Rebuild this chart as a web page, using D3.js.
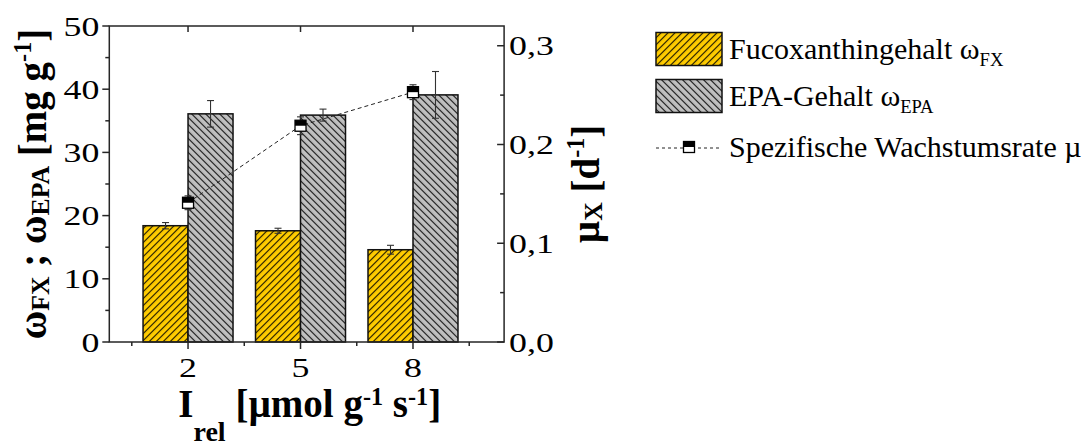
<!DOCTYPE html>
<html>
<head>
<meta charset="utf-8">
<script src="https://cdn.jsdelivr.net/npm/d3@7"></script>
<style>
  html, body { margin: 0; padding: 0; background: #fff; }
  svg { display: block; }
  text { font-family: "Liberation Serif", "Times New Roman", serif; fill: #000; }
</style>
</head>
<body>
<svg id="chart" width="1086" height="448"></svg>
<script>
// Light intensity levels (x categories)
const categories = ["2", "5", "8"];
// Fucoxanthin content [mg g-1] with standard deviation
const fxValues = [18.4, 17.6, 14.6];
const fxErrors = [0.5, 0.4, 0.7];
// EPA content [mg g-1] with standard deviation
const epaValues = [36.1, 35.9, 39.1];
const epaErrors = [2.1, 0.95, 3.7];
// Specific growth rate [d-1] with standard deviation
const muValues = [0.141, 0.219, 0.253];
const muErrors = [0.007, 0.009, 0.0075];
// Axis ticks
const leftTicks = [0, 10, 20, 30, 40, 50];
const leftMinorTicks = [5, 15, 25, 35, 45];
const rightTicks = [0, 0.1, 0.2, 0.3];
const rightMinorTicks = [0.05, 0.15, 0.25];
const xMinorTicks = [-0.5, 0.5, 1.5, 2.5];

const svg = d3.select("#chart");
const plot = { left: 109.3, right: 504.1, top: 26, bottom: 342 };
const sx = 1.28;          // horizontal stretch of the tick lettering
const axisColor = "#262626";

const x = d3.scaleLinear().domain([-0.7, 2.81]).range([plot.left, plot.right]);
const yL = d3.scaleLinear().domain([0, 50]).range([plot.bottom, plot.top]);
const yR = d3.scaleLinear().domain([0, 0.32]).range([plot.bottom, plot.top]);
const barW = 0.4;

// Hatch patterns
const defs = svg.append("defs");
function hatch(id, fill, angle) {
  const p = defs.append("pattern")
    .attr("id", id).attr("patternUnits", "userSpaceOnUse")
    .attr("width", 4.95).attr("height", 10)
    .attr("patternTransform", `rotate(${angle})`);
  p.append("rect").attr("width", 4.95).attr("height", 10).attr("fill", fill);
  p.append("line").attr("x1", 0.6).attr("y1", 0).attr("x2", 0.6).attr("y2", 10)
    .attr("stroke", "#000").attr("stroke-width", 1);
}
hatch("hatchFX", "#FFCC00", 45);
hatch("hatchEPA", "#C0C0C0", -45);

// Bars
const g = svg.append("g");
const idx = d3.range(categories.length);
g.selectAll(".fx").data(idx).join("rect")
  .attr("x", i => x(i - barW)).attr("width", i => x(i) - x(i - barW))
  .attr("y", i => yL(fxValues[i])).attr("height", i => yL(0) - yL(fxValues[i]))
  .attr("fill", "url(#hatchFX)").attr("stroke", "#111").attr("stroke-width", 1.5);
g.selectAll(".epa").data(idx).join("rect")
  .attr("x", i => x(i)).attr("width", i => x(i + barW) - x(i))
  .attr("y", i => yL(epaValues[i])).attr("height", i => yL(0) - yL(epaValues[i]))
  .attr("fill", "url(#hatchEPA)").attr("stroke", "#111").attr("stroke-width", 1.5);

// Error bars
function errorBar(cx, yTop, yBot, cap) {
  g.append("line").attr("x1", cx).attr("x2", cx).attr("y1", yTop).attr("y2", yBot)
    .attr("stroke", "#333").attr("stroke-width", 1.1);
  [yTop, yBot].forEach(yy => g.append("line")
    .attr("x1", cx - cap).attr("x2", cx + cap).attr("y1", yy).attr("y2", yy)
    .attr("stroke", "#333").attr("stroke-width", 1.1));
}
idx.forEach(i => {
  const cfx = x(i - barW / 2), cepa = x(i + barW / 2);
  errorBar(cfx, yL(fxValues[i] + fxErrors[i]), yL(fxValues[i] - fxErrors[i]), 3.5);
  errorBar(cepa, yL(epaValues[i] + epaErrors[i]), yL(epaValues[i] - epaErrors[i]), 3.5);
});

// Growth rate: dashed line, error bars, half-filled squares
g.append("path")
  .attr("d", d3.line().x(i => x(i)).y(i => yR(muValues[i]))(idx))
  .attr("fill", "none").attr("stroke", "#222").attr("stroke-width", 1)
  .attr("stroke-dasharray", "4,3");
idx.forEach(i => errorBar(x(i), yR(muValues[i] + muErrors[i]), yR(muValues[i] - muErrors[i]), 3.5));
function marker(sel, cx, cy, s) {
  sel.append("rect").attr("x", cx - s / 2).attr("y", cy - s / 2).attr("width", s).attr("height", s)
    .attr("fill", "#fff");
  sel.append("rect").attr("x", cx - s / 2).attr("y", cy - s / 2).attr("width", s).attr("height", s / 2)
    .attr("fill", "#000");
  sel.append("rect").attr("x", cx - s / 2).attr("y", cy - s / 2).attr("width", s).attr("height", s)
    .attr("fill", "none").attr("stroke", "#000").attr("stroke-width", 1.3);
}
idx.forEach(i => marker(g, x(i), yR(muValues[i]), 11));

// Frame and axes
const ax = svg.append("g").attr("stroke", axisColor).attr("stroke-width", 1.5).attr("fill", "none");
ax.append("rect").attr("x", plot.left).attr("y", plot.top)
  .attr("width", plot.right - plot.left).attr("height", plot.bottom - plot.top);
function tick(x1, y1, x2, y2) { ax.append("line").attr("x1", x1).attr("y1", y1).attr("x2", x2).attr("y2", y2); }
leftTicks.forEach(v => tick(plot.left - 7, yL(v), plot.left, yL(v)));
leftMinorTicks.forEach(v => tick(plot.left - 4, yL(v), plot.left, yL(v)));
rightTicks.forEach(v => tick(plot.right - 7, yR(v), plot.right, yR(v)));
rightMinorTicks.forEach(v => tick(plot.right - 4, yR(v), plot.right, yR(v)));
idx.forEach(i => { tick(x(i), plot.bottom, x(i), plot.bottom + 7); tick(x(i), plot.top, x(i), plot.top + 6); });
xMinorTicks.forEach(v => tick(x(v), plot.bottom, x(v), plot.bottom + 4));

// Tick labels
const labels = svg.append("g").attr("font-size", 28);
leftTicks.forEach(v => labels.append("text")
  .attr("transform", `translate(${plot.left - 10},${yL(v)}) scale(${sx},1)`)
  .attr("text-anchor", "end").attr("dy", "0.34em").text(d3.format("d")(v)));
rightTicks.forEach(v => labels.append("text")
  .attr("transform", `translate(${plot.right + 5},${yR(v)}) scale(${sx},1)`)
  .attr("text-anchor", "start").attr("dy", "0.34em").text(d3.format(".1f")(v).replace(".", ",")));
idx.forEach(i => labels.append("text")
  .attr("transform", `translate(${x(i)},376.5) scale(${sx},1)`)
  .attr("text-anchor", "middle").text(categories[i]));

// Rich text with sub-/superscripts (offsets in px)
function richText(sel, parts, size, sub, sup) {
  let offset = 0;
  parts.forEach(p => {
    const t = sel.append("tspan").text(p.t);
    let target = 0;
    if (p.sub) { t.attr("font-size", size * sub.scale); target = sub.shift; }
    if (p.sup) { t.attr("font-size", size * sup.scale); target = -sup.shift; }
    if (target !== offset) t.attr("dy", target - offset);
    offset = target;
  });
}
const tsize = 39;
const xt = svg.append("text").attr("font-size", tsize).attr("font-weight", "bold")
  .attr("text-anchor", "middle")
  .attr("transform", `translate(${(plot.left + plot.right) / 2 + 3},417)`);
richText(xt, [{ t: "I" }, { t: "rel", sub: true }, { t: " [µmol g" }, { t: "-1", sup: true },
  { t: " s" }, { t: "-1", sup: true }, { t: "]" }], tsize,
  { scale: 0.72, shift: 24 }, { scale: 0.62, shift: 12 });

const yt = svg.append("text").attr("font-size", tsize).attr("font-weight", "bold")
  .attr("text-anchor", "middle")
  .attr("transform", `translate(46,${(plot.top + plot.bottom) / 2}) rotate(-90)`);
richText(yt, [{ t: "ω" }, { t: "FX", sub: true }, { t: " ; ω" }, { t: "EPA", sub: true },
  { t: " [mg g" }, { t: "-1", sup: true }, { t: "]" }], tsize,
  { scale: 0.66, shift: 3 }, { scale: 0.62, shift: 15 });

const rt = svg.append("text").attr("font-size", tsize).attr("font-weight", "bold")
  .attr("text-anchor", "middle")
  .attr("transform", `translate(599,${(plot.top + plot.bottom) / 2}) rotate(-90)`);
richText(rt, [{ t: "µ" }, { t: "X", sub: true }, { t: " [d" }, { t: "-1", sup: true }, { t: "]" }],
  tsize, { scale: 0.66, shift: 3 }, { scale: 0.62, shift: 15 });

// Legend
const lg = svg.append("g");
const lx = 656, lw = 66;
lg.append("rect").attr("x", lx).attr("y", 32.5).attr("width", lw).attr("height", 33)
  .attr("fill", "url(#hatchFX)").attr("stroke", "#111").attr("stroke-width", 1.5);
lg.append("rect").attr("x", lx).attr("y", 79.5).attr("width", lw).attr("height", 33)
  .attr("fill", "url(#hatchEPA)").attr("stroke", "#111").attr("stroke-width", 1.5);
lg.append("line").attr("x1", lx).attr("x2", lx + lw).attr("y1", 148).attr("y2", 148)
  .attr("stroke", "#222").attr("stroke-width", 1).attr("stroke-dasharray", "3,3");
marker(lg, lx + lw / 2, 147, 11);
const legendItems = [
  [{ t: "Fucoxanthingehalt ω" }, { t: "FX", sub: true }],
  [{ t: "EPA-Gehalt ω" }, { t: "EPA", sub: true }],
  [{ t: "Spezifische Wachstumsrate µ" }]
];
const legendBaselines = [59, 106, 157];
legendItems.forEach((parts, k) => {
  const t = lg.append("text").attr("x", 729).attr("y", legendBaselines[k]).attr("font-size", 30);
  richText(t, parts, 30, { scale: 0.62, shift: 7 }, { scale: 0.62, shift: 12 });
});
</script>
</body>
</html>
